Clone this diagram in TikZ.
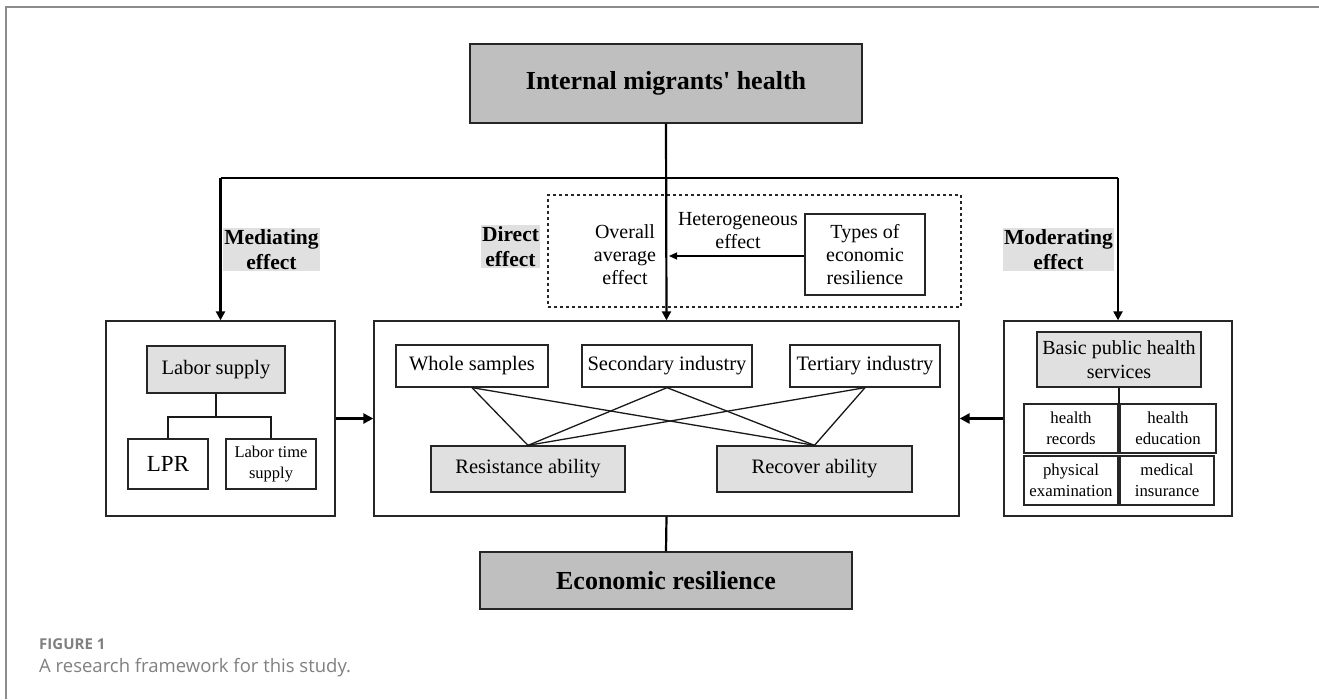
\documentclass[tikz,border=0pt]{standalone}
\usepackage{fontspec}
\setmainfont{Liberation Serif}
\newfontfamily\capfont{Open Sans}
\newcommand{\apos}{\XeTeXglyph\XeTeXcharglyph"0027\relax}
\usetikzlibrary{arrows.meta}
\tikzset{
  box/.style={draw=black!85, line width=1.3pt, align=center, inner sep=0pt, fill=white},
  lightbox/.style={box, fill=black!12},
  darkbox/.style={box, fill=black!25, font=\bfseries\fontsize{26pt}{30pt}\selectfont},
  txt/.style={font=\fontsize{20.5pt}{24pt}\selectfont},
  smalltxt/.style={font=\fontsize{16.8pt}{21pt}\selectfont},
  lbl/.style={fill=black!12, inner sep=1.5pt, align=center, font=\bfseries\fontsize{21.5pt}{25pt}\selectfont},
  conn/.style={line width=1.3pt, draw=black!90},
  bigarrow/.style={line width=2.4pt, -{Triangle[length=10pt,width=10pt]}},
  midarrow/.style={line width=2.2pt, -{Triangle[length=9pt,width=9pt]}},
  thinarrow/.style={line width=1.2pt, -{Triangle[length=8pt,width=7pt]}},
}
\begin{document}
\begin{tikzpicture}[x=1pt,y=-1pt]
\useasboundingbox (0,0) rectangle (1319,699);
% frame
\draw[black!45, line width=1.5pt] (6,699) -- (6,7) -- (1319,7);

% top and bottom boxes
\node[darkbox, minimum width=392pt, minimum height=79pt] (title) at (666,83.5) {Internal migrants\apos{} health};
\node[darkbox, minimum width=372pt, minimum height=57pt] (econ) at (666,580.5) {Economic resilience};

% dashed box
\node[draw=black!85, dashed, line width=1.1pt, minimum width=413pt, minimum height=112pt, inner sep=0pt] (dash) at (754.5,251) {};
\node[txt, align=center, font=\fontsize{20pt}{23pt}\selectfont] (overall) at (625,255) {Overall\\average\\effect};
\node[txt, align=center, font=\fontsize{20pt}{23pt}\selectfont] (hetero) at (738,231) {Heterogeneous\\effect};
\node[box, txt, font=\fontsize{20pt}{23pt}\selectfont, minimum width=120pt, minimum height=81pt] (types) at (865,254.5) {Types of\\economic\\resilience};

% three main boxes
\node[box, minimum width=229pt, minimum height=195pt] (leftbox) at (220.5,418.5) {};
\node[box, minimum width=585pt, minimum height=195pt] (centerbox) at (666.5,418.5) {};
\node[box, minimum width=228pt, minimum height=195pt] (rightbox) at (1118,418.5) {};

% left box content
\node[lightbox, txt, minimum width=138pt, minimum height=47pt] (labor) at (216,369.5) {Labor supply};
\node[box, txt, font=\fontsize{23pt}{26pt}\selectfont, minimum width=80pt, minimum height=50pt] (lpr) at (168,464) {LPR};
\node[box, font=\fontsize{16.5pt}{21pt}\selectfont, minimum width=90pt, minimum height=50pt] (lts) at (271,464) {Labor time\\supply};
\coordinate (tj) at (216,417);
\draw[conn] (labor.south) -- (tj);
\draw[conn] (lpr.north) |- (tj) -| (lts.north);

% center box content
\node[box, txt, minimum width=152pt, minimum height=42pt] (whole) at (472,366) {Whole samples};
\node[box, txt, minimum width=170pt, minimum height=42pt] (second) at (667,366) {Secondary industry};
\node[box, txt, minimum width=150pt, minimum height=42pt] (third) at (865,366) {Tertiary industry};
\node[lightbox, txt, minimum width=194pt, minimum height=46pt] (resist) at (528,469) {Resistance ability};
\node[lightbox, txt, minimum width=195pt, minimum height=46pt] (recover) at (814.5,469) {Recover ability};
\foreach \a in {whole,second,third}{
  \draw[conn] (\a.south) -- (resist.north);
  \draw[conn] (\a.south) -- (recover.north);
}

% right box content
\node[lightbox, txt, font=\fontsize{20pt}{24pt}\selectfont, minimum width=164pt, minimum height=55pt] (bphs) at (1119,359.5) {Basic public health\\services};
\node[box, smalltxt, minimum width=94pt, minimum height=49pt] (hr) at (1071,428.5) {health\\records};
\node[box, smalltxt, minimum width=96pt, minimum height=49pt] (he) at (1168,428.5) {health\\education};
\node[box, smalltxt, minimum width=94pt, minimum height=49pt] (pe) at (1071,480.5) {physical\\examination};
\node[box, smalltxt, minimum width=94pt, minimum height=49pt] (mi) at (1167,480.5) {medical\\insurance};
\coordinate (gtop) at (1119,404);
\draw[conn] (bphs.south) -- (gtop);

% labels
\node[lbl] (med) at (271.5,249.5) {Mediating\\effect};
\node[lbl] (dir) at (510.5,246.5) {Direct\\effect};
\node[lbl] (mod) at (1058.5,249.5) {Moderating\\effect};

% connectors
\coordinate (jl) at (220.5,178);
\coordinate (jr) at (1118,178);
\draw[line width=2.4pt] (jl) -- (jr);
\draw[midarrow] (title.south) -- (centerbox.north);
\draw[midarrow] (jl) -- (leftbox.north);
\draw[midarrow] (jr) -- (rightbox.north);
\coordinate (htip) at (669,256);
\draw[thinarrow] (types.west |- htip) -- (htip);
\draw[bigarrow] (leftbox.east) -- (centerbox.west);
\draw[bigarrow] (rightbox.west) -- (centerbox.east);
\draw[line width=2.2pt] (centerbox.south) -- (econ.north);

% caption
\node[anchor=base west, inner sep=0pt, text=black!50, font=\capfont\bfseries\fontsize{15pt}{17pt}\selectfont] (fig) at (39,649) {FIGURE 1};
\node[anchor=base west, inner sep=0pt, text=black!50, font=\capfont\fontsize{18.5pt}{21pt}\selectfont] (cap) at (39,672) {A research framework for this study.};
\end{tikzpicture}
\end{document}
